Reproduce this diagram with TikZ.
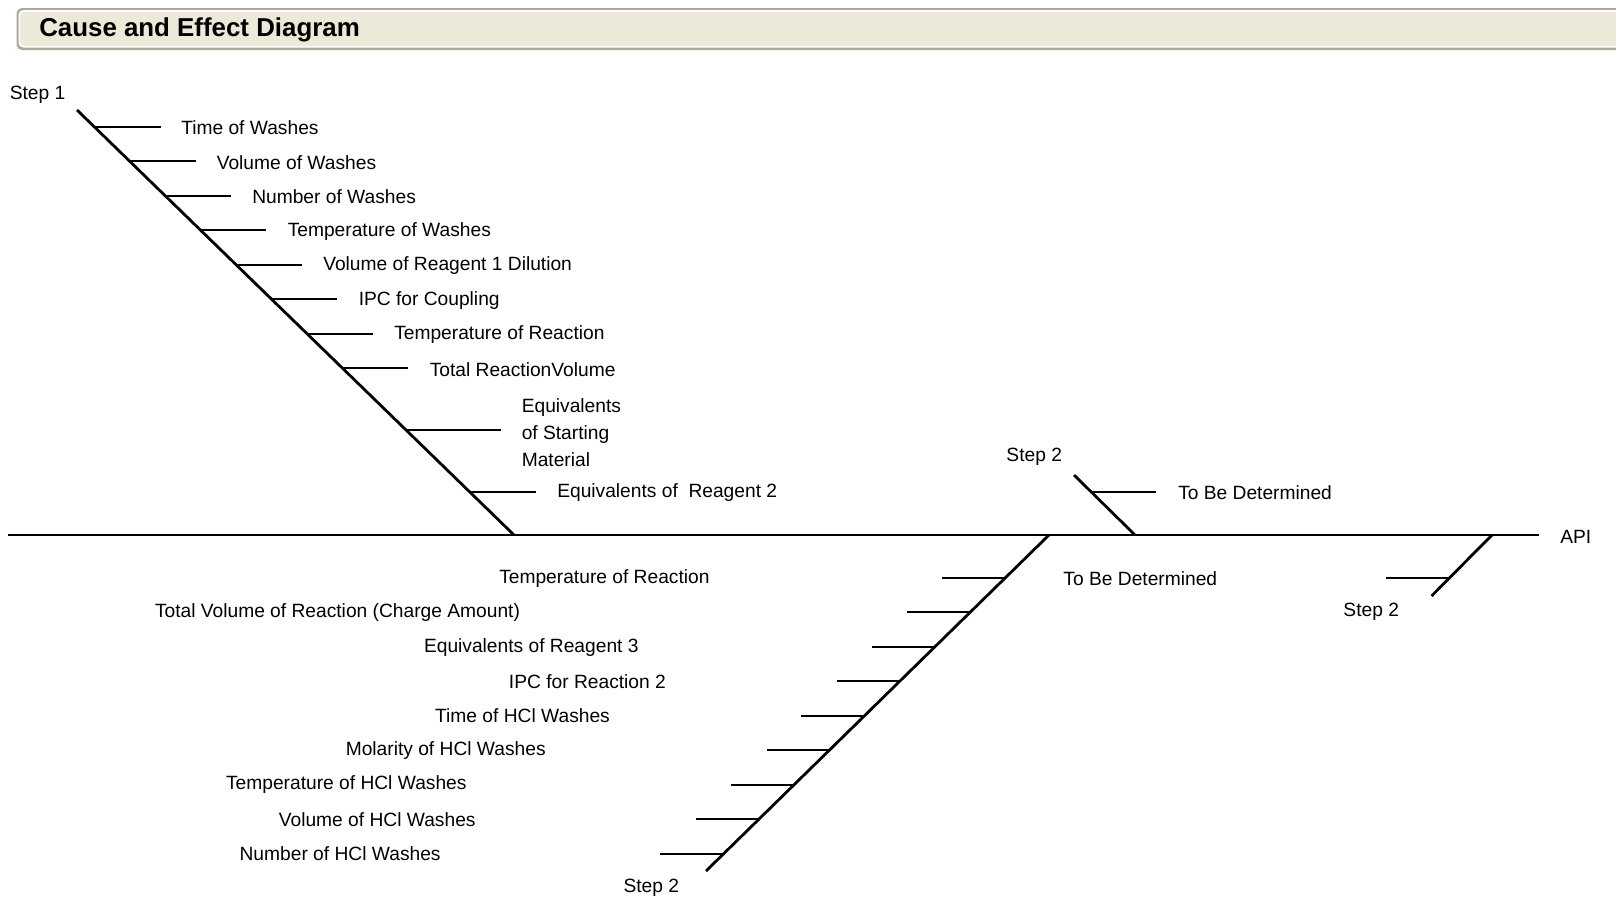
\documentclass[tikz,border=0pt]{standalone}
\usepackage{fontspec}
\setmainfont{Liberation Sans}
\definecolor{bannerFill}{HTML}{ECE9D8}
\definecolor{bannerEdge}{HTML}{ACA899}
\begin{document}
\begin{tikzpicture}[x=0.75pt,y=-0.75pt,
  lbl/.style={inner sep=0pt, anchor=west, yshift=-1.5pt, font=\fontsize{14.4}{20.5}\selectfont},
  clbl/.style={inner sep=0pt, anchor=center, yshift=-1.5pt, font=\fontsize{14.4}{20.5}\selectfont},
  bone/.style={line width=2.1pt},
  rib/.style={line width=1.2pt},
  spine/.style={line width=1.5pt}]
\useasboundingbox (0,0) rectangle (1616,896);

% title banner
\fill[bannerEdge, rounded corners=4pt] (16.5,8) rectangle (1660,50);
\fill[white, rounded corners=3.5pt] (18.5,10) rectangle (1660,47.5);
\fill[bannerFill, rounded corners=3pt] (20,12) rectangle (1660,46);
\node[inner sep=0pt, anchor=west, font=\fontsize{19.4}{22}\selectfont\bfseries] (title) at (39,30) {Cause and Effect Diagram};

% main spine
\coordinate (tail) at (8,535);
\coordinate (head) at (1539,535);
\node[lbl] (api) at (1560,535) {API};
\draw[spine] (tail) -- (head);

% Step 1 (upper left bone)
\node[clbl] (step1) at (37.6,93) {Step 1};
\coordinate (s1top) at (77,110);
\coordinate (s1foot) at (514,535);
\draw[bone] (s1top) -- (s1foot);

\coordinate (a1) at (94.5,127);  \coordinate (e1) at (160.5,127);
\coordinate (a2) at (129.5,161); \coordinate (e2) at (195.5,161);
\coordinate (a3) at (165.4,196); \coordinate (e3) at (231.4,196);
\coordinate (a4) at (200.4,230); \coordinate (e4) at (266.4,230);
\coordinate (a5) at (236.4,265); \coordinate (e5) at (302.4,265);
\coordinate (a6) at (271.3,299); \coordinate (e6) at (337.3,299);
\coordinate (a7) at (307.3,334); \coordinate (e7) at (373.3,334);
\coordinate (a8) at (342.3,368); \coordinate (e8) at (408.3,368);
\coordinate (a9) at (406,430);   \coordinate (e9) at (501,430);
\coordinate (a10) at (469.8,492);\coordinate (e10) at (535.8,492);
\foreach \i in {1,...,10} \draw[rib] (a\i) -- (e\i);

\node[lbl] (t1) at (181,126) {Time of Washes};
\node[lbl] (t2) at (216.5,160.5) {Volume of Washes};
\node[lbl] (t3) at (252,195) {Number of Washes};
\node[lbl] (t4) at (287.5,229.5) {Temperature of Washes};
\node[lbl] (t5) at (323,264) {Volume of Reagent 1 Dilution};
\node[lbl] (t6) at (358.5,298.5) {IPC for Coupling};
\node[lbl] (t7) at (394,333) {Temperature of Reaction};
\node[lbl] (t8) at (429.5,367.5) {Total ReactionVolume};
\node[lbl, align=left] (t9) at (521.5,430.5) {Equivalents\\of Starting\\Material};
\node[lbl] (t10) at (557,491) {Equivalents of\ \ Reagent 2};

% Step 2 (large lower bone)
\node[clbl] (step2b) at (651.3,886) {Step 2};
\coordinate (s2top) at (1049,535);
\coordinate (s2foot) at (706,871);
\draw[bone] (s2top) -- (s2foot);

\coordinate (b1) at (1005.1,578); \coordinate (f1) at (942.1,578);
\coordinate (b2) at (970.4,612);  \coordinate (f2) at (907.4,612);
\coordinate (b3) at (934.7,647);  \coordinate (f3) at (871.7,647);
\coordinate (b4) at (900,681);    \coordinate (f4) at (837,681);
\coordinate (b5) at (864.2,716);  \coordinate (f5) at (801.2,716);
\coordinate (b6) at (829.5,750);  \coordinate (f6) at (766.5,750);
\coordinate (b7) at (793.8,785);  \coordinate (f7) at (730.8,785);
\coordinate (b8) at (759.1,819);  \coordinate (f8) at (696.1,819);
\coordinate (b9) at (723.4,854);  \coordinate (f9) at (660.4,854);
\foreach \i in {1,...,9} \draw[rib] (b\i) -- (f\i);

\node[clbl] (u1) at (604.4,577) {Temperature of Reaction};
\node[clbl] (u2) at (337.5,611) {Total Volume of Reaction (Charge Amount)};
\node[clbl] (u3) at (531.3,646) {Equivalents of Reagent 3};
\node[clbl] (u4) at (587.4,680) {IPC for Reaction 2};
\node[clbl] (u5) at (522.5,714) {Time of HCl Washes};
\node[clbl] (u6) at (445.7,748.5) {Molarity of HCl Washes};
\node[clbl] (u7) at (346.3,783) {Temperature of HCl Washes};
\node[clbl] (u8) at (377.2,818) {Volume of HCl Washes};
\node[clbl] (u9) at (340.1,852) {Number of HCl Washes};

\node[clbl] (tbdlow) at (1140.3,577) {To Be Determined};

% Step 2 (small upper bone)
\node[clbl] (step2a) at (1034.2,454.5) {Step 2};
\coordinate (s3top) at (1074,475);
\coordinate (s3foot) at (1135,535);
\draw[bone] (s3top) -- (s3foot);
\coordinate (c1) at (1091.3,492); \coordinate (g1) at (1156,492);
\draw[rib] (c1) -- (g1);
\node[lbl] (tbdup) at (1178,491) {To Be Determined};

% Step 2 (small right bone)
\node[clbl] (step2c) at (1371.2,610) {Step 2};
\coordinate (s4top) at (1492,535);
\coordinate (s4foot) at (1431.5,596);
\draw[bone] (s4top) -- (s4foot);
\coordinate (d1) at (1449.4,578); \coordinate (h1) at (1386,578);
\draw[rib] (d1) -- (h1);
\end{tikzpicture}
\end{document}
